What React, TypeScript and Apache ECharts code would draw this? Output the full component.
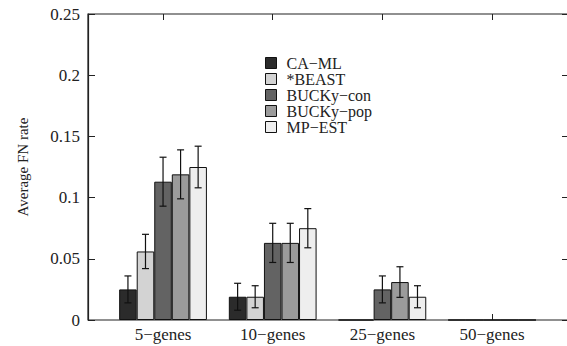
import React, { useEffect, useRef } from "react";
import * as echarts from "echarts";

const categories = ["5−genes", "10−genes", "25−genes", "50−genes"];
const methods = ["CA−ML", "*BEAST", "BUCKy−con", "BUCKy−pop", "MP−EST"];
const colors = ["#2b2b2b", "#d3d3d3", "#636363", "#9b9b9b", "#eeeeee"];
const values = [
  [0.025, 0.019, 0, 0],
  [0.056, 0.019, 0, 0],
  [0.113, 0.063, 0.025, 0],
  [0.119, 0.063, 0.031, 0],
  [0.125, 0.075, 0.019, 0],
];
const errors = [
  [0.011, 0.011, 0, 0],
  [0.014, 0.009, 0, 0],
  [0.020, 0.016, 0.011, 0],
  [0.020, 0.016, 0.0125, 0],
  [0.017, 0.016, 0.009, 0],
];

const FONT = "Liberation Serif";
const BAR_FRAC = 0.16;

export default function App() {
  const ref = useRef<HTMLDivElement>(null);
  useEffect(() => {
    if (!ref.current) return;
    const chart = echarts.init(ref.current, undefined, { renderer: "svg" });

    const bars = methods.map((name, si) => ({
      name,
      type: "bar",
      xAxisIndex: 1,
      yAxisIndex: 2,
      barWidth: `${BAR_FRAC * 100}%`,
      barGap: "0%",
      itemStyle: { color: colors[si], borderColor: "#111", borderWidth: 1 },
      data: values[si],
    }));

    const errs = methods.map((name, si) => ({
      name,
      type: "custom",
      xAxisIndex: 1,
      yAxisIndex: 2,
      z: 5,
      data: categories.map((_, ci) => [ci, values[si][ci], errors[si][ci]]),
      renderItem: (params: any, api: any) => {
        const ci = api.value(0);
        const y = api.value(1);
        const e = api.value(2);
        if (!(e > 0)) return { type: "group", children: [] };
        const band = api.size([1, 0])[0];
        const dx = (si - 2) * band * BAR_FRAC;
        const top = api.coord([ci, y + e]);
        const bot = api.coord([ci, y - e]);
        const x = top[0] + dx;
        const cap = 3.5;
        const st = { stroke: "#111", lineWidth: 1.2 };
        return {
          type: "group",
          children: [
            { type: "line", shape: { x1: x, y1: top[1], x2: x, y2: bot[1] }, style: st },
            { type: "line", shape: { x1: x - cap, y1: top[1], x2: x + cap, y2: top[1] }, style: st },
            { type: "line", shape: { x1: x - cap, y1: bot[1], x2: x + cap, y2: bot[1] }, style: st },
          ],
        };
      },
    }));

    const tickStyle = { color: "#222", width: 1 };
    const frameLine = { show: true, onZero: false, lineStyle: { color: "#222", width: 1.2 } };

    chart.setOption({
      animation: false,
      backgroundColor: "#ffffff",
      grid: [
        {
          left: 88,
          top: 14,
          width: 481,
          height: 306,
          show: true,
          borderColor: "#222",
          borderWidth: 1.2,
          outerBoundsMode: "none",
        },
        {
          left: 108.2,
          top: 14,
          width: 438.7,
          height: 306,
          outerBoundsMode: "none",
        },
      ],
      xAxis: [
        { type: "value", gridIndex: 0, min: 0, max: 1, show: false },
        {
          type: "category",
          gridIndex: 1,
          position: "bottom",
          data: categories,
          boundaryGap: true,
          axisLine: { show: false },
          axisTick: { show: true, inside: true, length: 6, alignWithLabel: true, lineStyle: tickStyle },
          axisLabel: { fontFamily: FONT, fontSize: 17, color: "#222", margin: 6, interval: 0 },
          splitLine: { show: false },
        },
        {
          type: "category",
          gridIndex: 1,
          position: "top",
          data: categories,
          boundaryGap: true,
          axisLine: { show: false },
          axisTick: { show: true, inside: true, length: 6, alignWithLabel: true, lineStyle: tickStyle },
          axisLabel: { show: false },
          splitLine: { show: false },
        },
      ],
      yAxis: [
        {
          type: "value",
          gridIndex: 0,
          min: 0,
          max: 0.25,
          interval: 0.05,
          position: "left",
          splitLine: { show: false },
          axisLine: frameLine,
          name: "Average FN rate",
          nameLocation: "middle",
          nameRotate: 90,
          nameGap: 58,
          nameTextStyle: { fontFamily: FONT, fontSize: 15, color: "#222" },
          axisTick: { show: true, inside: true, length: 7, lineStyle: tickStyle },
          axisLabel: {
            fontFamily: FONT,
            fontSize: 17,
            color: "#222",
            margin: 8,
            formatter: (v: number) => String(v),
          },
        },
        {
          type: "value",
          gridIndex: 0,
          min: 0,
          max: 0.25,
          interval: 0.05,
          position: "right",
          splitLine: { show: false },
          axisLine: frameLine,
          axisTick: { show: true, inside: true, length: 7, lineStyle: tickStyle },
          axisLabel: { show: false },
        },
        {
          type: "value",
          gridIndex: 1,
          min: 0,
          max: 0.25,
          interval: 0.05,
          show: false,
        },
      ],
      legend: {
        orient: "vertical",
        left: 265,
        top: 55,
        padding: 0,
        itemWidth: 11,
        itemHeight: 11,
        itemGap: 0,
        icon: "rect",
        data: methods.map((m, i) => ({
          name: m,
          itemStyle: { color: colors[i], borderColor: "#111", borderWidth: 1 },
        })),
        textStyle: { fontFamily: FONT, fontSize: 16, lineHeight: 15, color: "#222", padding: [0, 0, 0, 5] },
      },
      series: [...bars, ...errs],
    });
    return () => chart.dispose();
  }, []);
  return (
    <div
      ref={ref}
      style={{ position: "fixed", left: 0, top: 0, width: 567, height: 346 }}
    />
  );
}
